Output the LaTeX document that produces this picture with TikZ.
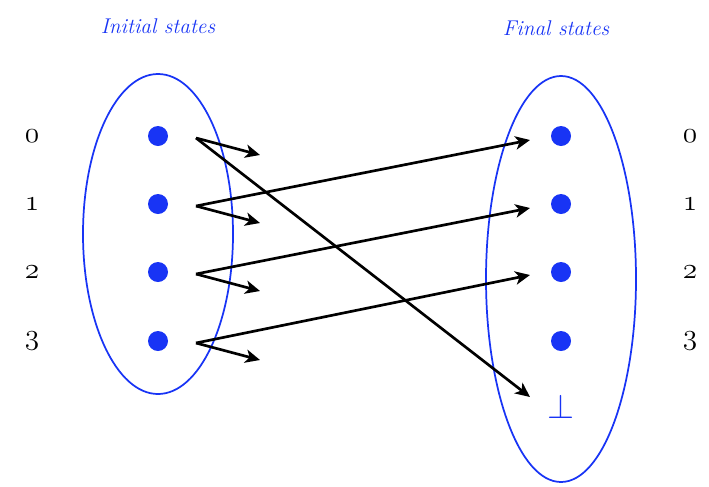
\RequirePackage{fix-cm}
\documentclass[tikz,border=0pt]{standalone}
\usepackage{fontspec}
\usetikzlibrary{arrows.meta}
\definecolor{sblue}{RGB}{24,52,245}
\newcommand{\osnum}[1]{{\usefont{OML}{cmm}{m}{it}#1}}
\begin{document}
\begin{tikzpicture}[x=0.75pt,y=-0.75pt,
  dot/.style={circle,fill=sblue,inner sep=0pt,minimum size=15pt},
  setell/.style={draw=sblue,line width=1.3pt},
  num/.style={font=\fontsize{22}{24}\selectfont},
  ttl/.style={text=sblue,font=\fontsize{16}{19}\selectfont\itshape},
  arr/.style={line width=2pt,-{Stealth[length=11pt,width=10pt,inset=3pt]}}]
\useasboundingbox (0,0) rectangle (709,486);
\draw[setell] (158,234) ellipse [x radius=75,y radius=160];
\draw[setell] (561,279) ellipse [x radius=75,y radius=203];
\node[ttl] (ti) at (158,26) {Initial states};
\node[ttl] (tf) at (556,28) {Final states};
\foreach \i/\y in {0/136,1/204,2/272,3/341}{
  \node[dot] (l\i) at (158,\y) {};
  \node[dot] (r\i) at (561,\y) {};
  \node[num] (nl\i) at (32,\y) {\osnum{\i}};
  \node[num] (nr\i) at (690,\y) {\osnum{\i}};
  \coordinate (a\i) at (196,\y+2);
  \coordinate (s\i) at (260,\y+19);
}
\node[text=sblue,font=\fontsize{26}{28}\selectfont,inner sep=0pt] (bot) at (561,406) {$\bot$};
\coordinate (e0) at (530,140);
\coordinate (e1) at (530,208);
\coordinate (e2) at (530,275);
\coordinate (eb) at (530,397);
\foreach \i in {0,1,2,3} \draw[arr] (a\i) -- (s\i);
\draw[arr] (a0) -- (eb);
\draw[arr] (a1) -- (e0);
\draw[arr] (a2) -- (e1);
\draw[arr] (a3) -- (e2);
\end{tikzpicture}
\end{document}
